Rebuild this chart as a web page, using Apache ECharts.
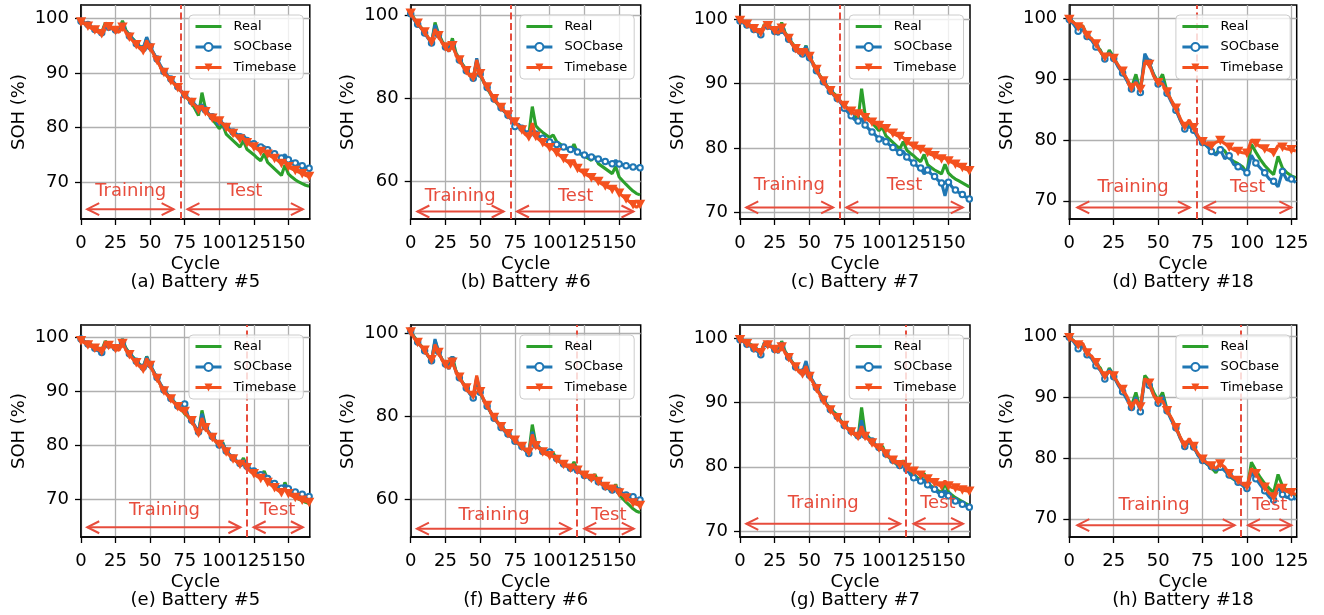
<!DOCTYPE html>
<html><head><meta charset="utf-8">
<script src="https://cdn.jsdelivr.net/npm/echarts@6/dist/echarts.min.js"></script>
<style>html,body{margin:0;padding:0;background:#fff}#c{width:1324px;height:615px}</style>
</head><body><div id="c"></div>
<script>
// ---------- DATA ----------
const cyc = [0,2.5,5,7.5,10,12.5,15,17.5,20,22.5,25,27.5,30,32.5,35,37.5,40,42.5,45,47.5,50,52.5,55,57.5,60,62.5,65,67.5,70,72.5,75,77.5,80,82.5,85,87.5,90,92.5,95,97.5,100,102.5,105,107.5,110,112.5,115,117.5,120,122.5,125,127.5,130,132.5,135,137.5,140,142.5,145,147.5,150,152.5,155,157.5,160,162.5,165];
const cyc18 = [0,2.5,5,7.5,10,12.5,15,17.5,20,22.5,25,27.5,30,32.5,35,37.5,40,42.5,45,47.5,50,52.5,55,57.5,60,62.5,65,67.5,70,72.5,75,77.5,80,82.5,85,87.5,90,92.5,95,97.5,100,102.5,105,107.5,110,112.5,115,117.5,120,122.5,125,127.5];

const real5 = [99.7,99.1,98.8,98.5,98.2,97.9,97.5,99.2,98.6,98.3, 98.0,97.8,99.6,97.9,97.0,96.3,95.6,94.9,94.3,96.4, 94.8,93.6,92.4,91.2,90.2,89.4,88.7,88.0,87.3,86.6, 85.8,85.2,84.5,83.4,82.2,86.4,83.5,82.3,81.5,80.7, 79.8,80.5,78.8,78.2,77.6,77.0,76.4,77.6,76.0,75.5, 75.0,74.4,73.9,75.2,73.6,73.0,72.4,71.8,71.2,73.1, 71.5,70.9,70.4,70.0,69.7,69.4,69.2];
const socA = [99.5,99.2,98.9,98.4,98.0,97.6,97.4,98.9,98.4,98.2, 97.9,97.6,98.6,97.7,96.8,96.2,95.4,94.7,94.5,96.6, 94.9,93.7,92.6,91.4,90.3,89.6,88.9,88.2,87.5,86.7, 86.0,85.4,84.8,84.2,83.5,84.2,83.2,82.5,82.0,81.5, 81.0,80.8,80.2,79.7,79.2,78.8,78.3,78.6,77.6,77.2, 77.0,76.6,76.4,76.5,75.9,75.5,75.2,74.8,74.4,75.0, 74.1,73.8,73.5,73.3,73.0,72.7,72.5];
const timeA = [99.4,99.0,98.6,98.2,97.9,97.5,97.2,99.0,98.5,98.1, 97.8,97.5,98.4,97.5,96.6,95.9,95.2,94.5,94.1,96.0, 94.6,93.5,92.3,91.1,90.1,89.4,88.6,88.0,87.3,86.6, 85.9,85.3,84.6,84.0,83.2,84.0,82.9,82.3,81.7,81.3, 81.2,80.7,80.0,79.4,78.9,78.4,77.9,78.1,77.2,76.8, 76.4,76.0,75.6,75.7,75.1,74.7,74.3,73.9,73.4,73.9, 72.8,72.4,72.1,71.8,71.5,71.2,71.0];
const socE = [99.6,99.2,98.7,98.3,97.9,97.4,97.1,98.9,98.5,98.2, 98.0,97.7,99.0,97.8,96.9,96.2,95.5,94.8,94.4,96.3, 94.9,93.6,92.5,91.3,90.2,89.4,88.6,87.9,87.2,86.5, 87.6,85.3,84.6,83.5,82.4,85.8,83.4,82.4,81.6,80.8, 80.0,80.3,78.9,78.3,77.6,77.1,76.6,77.2,76.1,75.6, 75.2,74.8,74.5,74.6,73.8,73.3,72.9,72.4,72.0,72.6, 71.9,71.5,71.3,71.0,70.9,70.7,70.5];
const timeE = [99.3,98.9,98.5,98.2,97.9,97.6,97.3,98.9,98.4,98.1, 97.8,97.5,98.8,97.6,96.7,95.9,95.2,94.5,94.0,96.0, 94.7,93.4,92.3,91.1,90.0,89.2,88.5,87.8,87.1,86.4, 86.2,85.3,84.5,83.3,82.2,85.0,83.2,82.2,81.4,80.6, 80.1,80.0,78.7,78.1,77.4,76.9,76.4,76.8,75.8,75.1, 74.7,74.2,73.8,73.9,73.1,72.6,72.1,71.6,71.2,72.0, 71.0,70.6,70.3,70.0,69.8,69.6,69.4];

const real6 = [100.5,99.2,98.0,97.0,96.0,94.6,93.2,98.2,95.5,93.8, 92.5,91.6,94.4,91.0,89.4,88.1,86.9,85.6,84.6,89.0, 85.6,83.9,82.4,81.0,79.7,78.6,77.6,76.8,76.0,75.0, 74.0,73.3,72.6,71.9,71.2,78.0,73.4,72.5,71.8,71.2, 70.6,71.2,69.6,69.0,68.4,67.9,67.3,69.0,67.0,66.5, 66.1,65.6,65.1,66.0,64.3,63.7,63.1,62.5,61.9,63.6, 61.1,60.2,59.3,58.5,57.7,57.1,56.8];
const socB = [100.3,98.8,97.8,96.8,95.7,94.4,93.3,97.6,95.3,93.5, 92.3,91.3,93.0,90.7,89.2,87.9,86.6,85.5,84.8,89.6, 85.8,84.0,82.6,81.2,79.8,78.7,77.7,76.8,75.9,74.8, 73.2,73.8,72.8,72.0,71.5,72.3,71.4,70.8,70.4,70.0, 69.5,69.3,68.9,68.6,68.3,68.0,67.7,67.8,67.1,66.7, 66.4,66.2,65.9,65.8,65.4,65.1,64.8,64.5,64.3,65.1, 64.2,64.0,63.8,63.6,63.5,63.4,63.3];
const timeB = [100.4,99.0,98.0,96.9,95.9,94.6,93.5,96.6,95.0,93.4, 92.3,91.3,92.6,90.6,89.2,87.8,86.6,85.4,85.0,89.2, 85.9,84.1,82.7,81.3,79.9,78.8,77.8,76.9,76.0,75.0, 74.3,73.4,72.4,71.3,70.7,74.0,70.8,70.0,69.3,68.7, 68.1,67.7,66.9,66.2,65.5,64.8,64.2,65.0,63.1,62.5, 62.0,61.4,60.9,60.6,60.0,59.4,58.9,58.5,58.1,58.6, 57.2,56.5,55.8,55.1,54.4,53.8,54.5];
const socF = [100.6,99.0,97.9,96.8,95.8,94.5,93.4,98.6,95.6,93.7, 92.6,91.4,93.6,90.8,89.3,88.0,86.8,85.4,84.4,89.4, 85.8,83.9,82.4,81.0,79.5,78.4,77.3,76.4,75.7,74.9, 74.0,73.4,72.7,71.7,71.0,76.3,73.1,72.4,71.5,71.0, 71.4,70.6,69.8,69.1,68.5,68.0,67.5,68.0,67.0,66.3, 65.7,65.4,65.2,65.0,64.2,63.6,63.0,62.6,62.2,63.0, 62.0,61.5,61.0,60.7,60.6,60.0,59.8];
const timeF = [100.3,98.9,97.8,96.9,95.9,94.6,93.6,97.3,95.4,93.7, 92.5,91.5,93.0,90.9,89.4,88.0,86.8,85.6,85.0,89.8, 85.9,84.1,82.6,81.1,79.7,78.6,77.5,76.6,75.8,75.0, 74.2,73.4,72.7,71.8,71.3,75.6,72.9,72.2,71.4,70.8, 70.5,70.3,69.6,69.0,68.4,67.9,67.5,67.8,67.0,66.3, 65.8,65.3,65.0,65.1,64.3,63.6,63.1,62.6,62.4,62.6, 61.5,61.0,60.3,59.7,59.1,58.8,58.5];

const real7 = [99.8,99.6,99.3,99.0,98.7,98.2,97.8,99.2,99.0,98.7, 98.3,97.8,99.5,97.9,97.1,96.3,95.6,94.9,94.5,95.9, 94.1,93.2,92.2,91.3,90.5,89.7,89.0,88.5,88.0,87.2, 86.5,86.0,85.5,85.0,84.5,89.2,85.2,84.6,84.0,83.3, 82.7,83.2,81.9,81.4,80.9,80.4,79.9,81.0,79.7,79.2, 78.8,78.3,77.9,79.0,77.4,77.0,76.6,76.3,76.0,77.5, 76.1,75.6,75.2,74.9,74.6,74.3,74.0];
const socC = [99.7,99.4,99.1,98.8,98.4,98.0,97.6,98.9,98.9,98.5, 98.1,97.6,98.3,97.6,96.9,96.1,95.4,94.7,94.6,95.8, 94.0,93.0,92.0,91.1,90.3,89.5,88.8,88.2,87.7,87.0, 86.2,85.6,85.0,84.4,84.2,84.6,83.6,83.0,82.5,82.0, 81.4,81.6,81.0,80.5,80.1,79.7,79.3,79.5,78.6,78.1, 77.7,77.2,76.9,76.0,76.6,76.0,75.6,75.0,74.6,72.6, 74.7,74.0,73.5,73.1,72.8,72.4,72.1];
const timeC = [99.8,99.5,99.2,98.8,98.5,98.1,97.9,99.1,99.0,98.6, 98.2,97.8,98.6,97.8,97.0,96.2,95.4,94.7,94.8,95.4, 94.2,93.2,92.2,91.2,90.4,89.6,88.9,88.3,87.7,87.2, 86.6,86.1,85.7,85.3,85.3,85.6,84.7,84.3,84.0,83.8, 83.5,83.4,83.0,82.6,82.3,82.0,81.8,81.6,81.0,80.6, 80.3,80.0,79.8,79.7,79.3,79.0,78.8,78.5,78.3,78.5, 78.0,77.8,77.5,77.2,77.0,76.7,76.5];
const socG = [99.7,99.4,99.0,98.7,98.3,97.9,97.4,99.2,99.0,98.6, 98.2,97.7,98.8,97.8,97.0,96.2,95.5,94.8,94.7,96.4, 94.2,93.3,92.3,91.4,90.5,89.6,88.9,88.3,87.8,87.1, 86.4,86.0,85.5,85.1,84.8,87.2,84.9,84.4,84.0,83.4, 83.0,82.7,82.0,81.5,81.0,80.5,80.2,80.6,79.6,78.8, 78.3,78.0,77.8,77.9,77.2,76.8,76.5,76.0,75.7,76.3, 75.5,75.1,74.7,74.5,74.2,73.9,73.7];
const timeG = [99.7,99.4,99.1,98.8,98.4,98.1,97.7,99.1,98.9,98.6, 98.2,97.8,98.6,97.7,96.9,96.2,95.5,94.7,94.4,95.6, 94.0,93.1,92.1,91.2,90.3,89.5,88.8,88.2,87.6,87.0, 86.4,85.9,85.4,85.0,84.7,86.3,84.7,84.2,83.7,83.2, 82.9,82.9,82.0,81.5,81.0,80.6,80.3,80.7,79.9,79.4, 79.3,79.0,78.7,78.6,78.1,77.8,77.5,77.2,77.0,77.8, 77.0,76.8,76.7,76.5,76.4,76.3,76.2];

const real18 = [100.0,99.3,98.4,98.8,97.2,96.6,95.6,94.8,93.1,94.8, 93.6,92.2,91.2,89.9,88.6,90.8,88.0,93.6,92.6,90.8, 89.5,90.8,88.0,86.4,85.2,83.3,81.9,82.8,82.0,80.5, 79.7,79.0,78.4,77.6,78.8,78.2,77.0,76.5,76.1,75.6, 74.6,79.3,78.0,76.8,75.8,75.0,74.3,77.3,75.4,74.6, 74.1,73.8];
const socD = [99.8,99.0,97.9,98.2,97.0,96.4,95.3,94.6,93.3,94.4, 93.4,92.0,91.0,89.7,88.4,89.8,87.8,94.2,92.8,90.6, 89.2,89.6,87.7,86.2,84.9,83.2,81.8,82.2,81.6,80.3, 79.6,79.0,78.1,77.5,78.4,76.9,77.4,76.0,75.6,75.2, 74.6,77.5,76.2,75.4,74.6,73.6,73.2,72.3,74.8,73.4, 73.6,73.0];
const timeD = [99.8,99.3,98.6,98.8,97.2,96.7,95.8,94.5,93.6,94.2, 93.4,92.3,91.3,90.0,88.6,89.5,88.3,92.8,92.4,90.5, 89.4,89.2,87.9,86.5,85.2,83.5,82.2,83.3,82.0,80.6, 79.7,79.3,79.0,79.6,79.9,79.4,78.8,78.4,78.1,77.9, 77.8,80.0,79.4,78.9,78.5,78.3,77.9,79.1,78.8,78.5, 78.4,78.2];
const socH = [99.9,99.1,98.0,98.4,97.0,96.4,95.2,94.4,93.0,94.6, 93.4,92.0,90.9,89.6,88.3,90.0,87.6,93.0,92.0,90.4, 89.0,90.2,87.8,86.2,85.0,83.2,81.9,82.6,81.8,80.4, 79.6,79.0,78.6,78.0,78.5,77.9,77.2,76.6,76.0,75.5, 75.0,77.6,76.6,75.6,74.6,73.6,73.1,75.2,74.0,73.5, 73.6,73.2];
const timeH = [99.8,99.3,98.6,98.9,97.3,96.8,95.7,94.5,93.5,94.3, 93.5,92.3,91.3,90.1,88.5,89.6,88.4,93.1,92.3,90.3, 89.3,89.4,87.8,86.6,85.0,83.4,82.1,83.2,81.9,80.7, 79.8,79.2,78.7,78.3,79.0,78.5,77.4,76.8,76.3,75.7, 75.3,78.3,77.4,76.2,75.2,74.2,73.6,75.6,75.0,74.5, 74.3,74.0];

// tick labels
const xTicks167 = [0,25,50,75,100,125,150];
const xTicks18 = [0,25,50,75,100,125];
const yTicks10 = [70,80,90,100];
const yTicks20 = [60,80,100];
const annoTexts = ['Training','Test'];

// panels (values / data-space annotations only)
const panels = [
 {title:'(a) Battery #5', cyc:cyc, real:real5, soc:socA, time:timeA, xMax:165.5, xTicks:xTicks167, yMin:63.2, yMax:102.5, ySplit:4, yTicks:yTicks10, split:72, arrowY:65, textY:68.2, train:[4.5,67], test:[77,160.5], txt:[36,118.4]},
 {title:'(b) Battery #6', cyc:cyc, real:real6, soc:socB, time:timeB, xMax:165.5, xTicks:xTicks167, yMin:51.0, yMax:102.4, ySplit:3, yTicks:yTicks20, split:72, arrowY:52.8, textY:56.4, train:[4.8,66.9], test:[76.5,160.3], txt:[35.6,118.7]},
 {title:'(c) Battery #7', cyc:cyc, real:real7, soc:socC, time:timeC, xMax:165.5, xTicks:xTicks167, yMin:69.0, yMax:102.2, ySplit:4, yTicks:yTicks10, split:72, arrowY:70.8, textY:74.2, train:[4.5,67], test:[76.5,160.3], txt:[35.5,118.4]},
 {title:'(d) Battery #18', cyc:cyc18, real:real18, soc:socD, time:timeD, xMax:128, xTicks:xTicks18, yMin:67.0, yMax:102.2, ySplit:4, yTicks:yTicks10, split:72, arrowY:68.9, textY:72.2, train:[4.5,67.9], test:[75.9,125], txt:[35.9,100.4]},
 {title:'(e) Battery #5', cyc:cyc, real:real5, soc:socE, time:timeE, xMax:165.5, xTicks:xTicks167, yMin:63.0, yMax:102.2, ySplit:4, yTicks:yTicks10, split:119.7, arrowY:64.8, textY:68.0, train:[4.5,115.3], test:[124.9,160.5], txt:[60.4,142.2]},
 {title:'(f) Battery #6', cyc:cyc, real:real6, soc:socF, time:timeF, xMax:165.5, xTicks:xTicks167, yMin:50.9, yMax:102.0, ySplit:3, yTicks:yTicks20, split:119.7, arrowY:52.9, textY:56.1, train:[4.5,115.3], test:[124.9,160.5], txt:[60,142.5]},
 {title:'(g) Battery #7', cyc:cyc, real:real7, soc:socG, time:timeG, xMax:165.5, xTicks:xTicks167, yMin:69.1, yMax:102.0, ySplit:4, yTicks:yTicks10, split:119.3, arrowY:71.15, textY:74.3, train:[4.5,115.3], test:[124.9,160.5], txt:[59.9,142.4]},
 {title:'(h) Battery #18', cyc:cyc18, real:real18, soc:socH, time:timeH, xMax:128, xTicks:xTicks18, yMin:67.0, yMax:101.9, ySplit:4, yTicks:yTicks10, split:96.3, arrowY:68.95, textY:72.2, train:[4.5,93.1], test:[100.6,125], txt:[47.7,112.8]}
];

// ---------- LAYOUT / STYLE ----------
const W = 1324;
const colLeft = [81, 410.7, 740, 1069.3];
const colWidth = [228.8, 230, 230, 227.4];
const rowTop = [5, 325];
const rowHeight = [214, 212];
const FONT = 'DejaVu Sans';
const C_REAL = '#2ca02c', C_SOC = '#1f77b4', C_TIME = '#f4511e', C_ANN = '#e74c3c';
const LW = 3.1;

function arrowRender(params, api) {
  const y = api.value(2);
  const p1 = api.coord([api.value(0), y]), p2 = api.coord([api.value(1), y]);
  const hl = 12, hw = 6;
  const st = {stroke: C_ANN, lineWidth: 2, fill: null};
  return {type:'group', children:[
    {type:'line', shape:{x1:p1[0], y1:p1[1], x2:p2[0], y2:p2[1]}, style:st},
    {type:'polyline', shape:{points:[[p1[0]+hl,p1[1]-hw],[p1[0],p1[1]],[p1[0]+hl,p1[1]+hw]]}, style:st},
    {type:'polyline', shape:{points:[[p2[0]-hl,p2[1]-hw],[p2[0],p2[1]],[p2[0]-hl,p2[1]+hw]]}, style:st}
  ]};
}
function textRender(params, api) {
  const p = api.coord([api.value(0), api.value(1)]);
  return {type:'text', x:p[0], y:p[1], style:{text: annoTexts[params.dataIndex], fill: C_ANN, font:'18px "' + FONT + '"', textAlign:'center', textVerticalAlign:'middle'}};
}

const grids = [], xAxes = [], yAxes = [], series = [], legends = [], graphics = [];
panels.forEach((p, i) => {
  const col = i % 4, row = Math.floor(i / 4);
  const L = colLeft[col], Wd = colWidth[col], T = rowTop[row], H = rowHeight[row];
  grids.push({left:L, top:T, width:Wd, height:H, show:true, borderColor:'#000', borderWidth:1.5, backgroundColor:'rgba(0,0,0,0)'});
  xAxes.push({type:'value', gridIndex:i, min:0, max:p.xMax, interval:25,
    axisLine:{show:true, onZero:false, lineStyle:{color:'#000', width:1.5}},
    axisTick:{show:true, length:6, lineStyle:{color:'#000', width:1.3}, customValues:p.xTicks},
    axisLabel:{customValues:p.xTicks, fontFamily:FONT, fontSize:18, color:'#000', margin:15, hideOverlap:false,
      formatter: v => (p.xTicks.indexOf(v) >= 0 ? String(v) : '')},
    splitLine:{show:true, lineStyle:{color:'#b0b0b0', width:1.3}},
    name:'Cycle', nameLocation:'middle', nameGap:36, nameMoveOverlap:false,
    nameTextStyle:{fontFamily:FONT, fontSize:18, color:'#000'}});
  yAxes.push({type:'value', gridIndex:i, min:p.yMin, max:p.yMax, splitNumber:p.ySplit,
    axisLine:{show:true, onZero:false, lineStyle:{color:'#000', width:1.5}},
    axisTick:{show:true, length:6, lineStyle:{color:'#000', width:1.3}, customValues:p.yTicks},
    axisLabel:{customValues:p.yTicks, fontFamily:FONT, fontSize:18, color:'#000', margin:12,
      formatter: v => (p.yTicks.indexOf(v) >= 0 ? String(v) : '')},
    splitLine:{show:true, lineStyle:{color:'#b0b0b0', width:1.3}},
    name:'SOH (%)', nameLocation:'middle', nameGap:53, nameMoveOverlap:false,
    nameTextStyle:{fontFamily:FONT, fontSize:18, color:'#000'}});

  series.push({name:'Real', type:'line', xAxisIndex:i, yAxisIndex:i, symbol:'none', showSymbol:false,
    data:p.cyc.map((c,k) => [c, p.real[k]]),
    lineStyle:{color:C_REAL, width:LW}, itemStyle:{color:C_REAL}, z:2, silent:true,
    markLine:{silent:true, symbol:['none','none'], label:{show:false}, animation:false,
      lineStyle:{color:C_ANN, type:[7,3.5], width:2}, data:[{xAxis:p.split}]}});
  series.push({name:'SOCbase', type:'line', xAxisIndex:i, yAxisIndex:i, symbol:'circle', symbolSize:5.5, showAllSymbol:true,
    data:p.cyc.map((c,k) => k % 2 === 0 ? [c, p.soc[k]] : {value:[c, p.soc[k]], symbol:'none'}),
    lineStyle:{color:C_SOC, width:LW}, itemStyle:{color:'#ffffff', borderColor:C_SOC, borderWidth:2}, z:3, silent:true});
  series.push({name:'Timebase', type:'line', xAxisIndex:i, yAxisIndex:i, symbol:'triangle', symbolRotate:180, symbolSize:[10.5,9.5], showAllSymbol:true,
    data:p.cyc.map((c,k) => k % 2 === 0 ? [c, p.time[k]] : {value:[c, p.time[k]], symbol:'none'}),
    lineStyle:{color:C_TIME, width:LW}, itemStyle:{color:C_TIME}, z:4, silent:true});
  series.push({type:'custom', xAxisIndex:i, yAxisIndex:i, silent:true, z:5,
    data:[[p.train[0], p.train[1], p.arrowY], [p.test[0], p.test[1], p.arrowY]], renderItem:arrowRender});
  series.push({type:'custom', xAxisIndex:i, yAxisIndex:i, silent:true, z:5,
    data:[[p.txt[0], p.textY], [p.txt[1], p.textY]], renderItem:textRender});

  legends.push({show:true, orient:'vertical', right: W - (L + Wd) + 6.5, top: T + 10,
    data:[{name:'Real', itemStyle:{opacity:0}}, 'SOCbase', 'Timebase'],
    itemWidth:26, itemHeight:10, itemGap:7.5, selectedMode:false,
    lineStyle:{width:3},
    textStyle:{fontFamily:FONT, fontSize:13, color:'#000', padding:[0,0,0,7]},
    backgroundColor:'rgba(255,255,255,0.8)', borderColor:'#cccccc', borderWidth:1, borderRadius:4,
    padding:[5,7,5,5], z:10});
  graphics.push({type:'text', x: L + Wd/2, y: T + H + 63.5, silent:true,
    style:{text:p.title, font:'18px "' + FONT + '"', fill:'#000', textAlign:'center', textVerticalAlign:'middle'}});
});

const chart = echarts.init(document.getElementById('c'), null, {renderer:'canvas'});
chart.setOption({
  animation:false,
  backgroundColor:'#fff',
  textStyle:{fontFamily:FONT},
  grid:grids, xAxis:xAxes, yAxis:yAxes, series:series, legend:legends, graphic:graphics
});
</script>
</body></html>
